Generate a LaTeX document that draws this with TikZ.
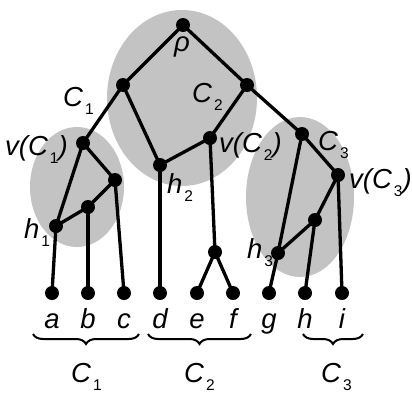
\documentclass[tikz,border=0pt]{standalone}
\usepackage{fontspec}
\setmainfont{Liberation Sans}
\usetikzlibrary{decorations.pathreplacing}
\definecolor{blobgray}{RGB}{195,195,195}
\newcommand\subnum[1]{\kern2pt\raisebox{-8pt}{\fontsize{15.5}{15.5}\selectfont\upshape #1}}
\tikzset{
  dot/.style={circle,fill=black,inner sep=0pt,minimum size=14pt},
  edge/.style={line width=3.3pt},
  blob/.style={fill=blobgray},
  lbl/.style={inner sep=0pt,anchor=base west,font=\fontsize{27.5}{27.5}\selectfont\itshape},
  leaflbl/.style={inner sep=0pt,anchor=base,font=\fontsize{27.5}{27.5}\selectfont\itshape},
  brc/.style={decorate,decoration={brace,mirror,amplitude=10pt},line width=2pt}
}
\begin{document}
\begin{tikzpicture}[x=1pt,y=-1pt]
\useasboundingbox (0,0) rectangle (412,392);
% blobs
\fill[blob] (182,98) ellipse [x radius=75, y radius=88];
\fill[blob] (77,187) ellipse [x radius=47, y radius=60];
\fill[blob] (300,197) ellipse [x radius=54, y radius=80];
% nodes
\node[dot] (rho) at (183,25) {};
\node[dot] (c1) at (123,85) {};
\node[dot] (c2) at (247,85) {};
\node[dot] (vc1) at (83,143) {};
\node[dot] (n1) at (115,180) {};
\node[dot] (n2) at (88,207) {};
\node[dot] (h1) at (56,226) {};
\node[dot] (h2) at (160,165) {};
\node[dot] (vc2) at (210,138) {};
\node[dot] (ef) at (215,252) {};
\node[dot] (c3) at (302,134) {};
\node[dot] (vc3) at (338,175) {};
\node[dot] (n3) at (315,220) {};
\node[dot] (h3) at (278,253) {};
\node[dot] (la) at (52,293) {};
\node[dot] (lb) at (88,293) {};
\node[dot] (lc) at (124,293) {};
\node[dot] (ld) at (160,293) {};
\node[dot] (le) at (197,293) {};
\node[dot] (lf) at (233,293) {};
\node[dot] (lg) at (269,293) {};
\node[dot] (lh) at (305,293) {};
\node[dot] (li) at (342,293) {};
% edges
\draw[edge] (rho.center) -- (c1.center);
\draw[edge] (rho.center) -- (c2.center);
\draw[edge] (c1.center) -- (vc1.center);
\draw[edge] (c1.center) -- (h2.center);
\draw[edge] (vc1.center) -- (n1.center);
\draw[edge] (vc1.center) -- (h1.center);
\draw[edge] (n1.center) -- (n2.center);
\draw[edge] (n1.center) -- (lc.center);
\draw[edge] (n2.center) -- (h1.center);
\draw[edge] (n2.center) -- (lb.center);
\draw[edge] (h1.center) -- (la.center);
\draw[edge] (h2.center) -- (ld.center);
\draw[edge] (c2.center) -- (vc2.center);
\draw[edge] (c2.center) -- (c3.center);
\draw[edge] (vc2.center) -- (h2.center);
\draw[edge] (vc2.center) -- (ef.center);
\draw[edge] (ef.center) -- (le.center);
\draw[edge] (ef.center) -- (lf.center);
\draw[edge] (c3.center) -- (vc3.center);
\draw[edge] (c3.center) -- (h3.center);
\draw[edge] (vc3.center) -- (n3.center);
\draw[edge] (vc3.center) -- (li.center);
\draw[edge] (n3.center) -- (h3.center);
\draw[edge] (n3.center) -- (lh.center);
\draw[edge] (h3.center) -- (lg.center);
% labels
\node[lbl,anchor=base] (trho) at (182,51) {ρ};
\node[lbl] (tc1) at (63,106) {C\subnum{1}};
\node[lbl] (tvc1) at (5,155) {v(C\subnum{1})};
\node[lbl] (tc2) at (192,102) {C\subnum{2}};
\node[lbl] (tvc2) at (219,152) {v(C\subnum{2})};
\node[lbl] (tc3) at (318,150) {C\subnum{3}};
\node[lbl] (tvc3) at (349,188) {v(C\subnum{3})};
\node[lbl] (th1) at (24,238) {h\subnum{1}};
\node[lbl] (th2) at (167,193) {h\subnum{2}};
\node[lbl] (th3) at (247,258) {h\subnum{3}};
\node[leaflbl] (ta) at (52,328) {a};
\node[leaflbl] (tb) at (88,328) {b};
\node[leaflbl] (tc) at (124,328) {c};
\node[leaflbl] (td) at (160,328) {d};
\node[leaflbl] (te) at (197,328) {e};
\node[leaflbl] (tf) at (233,328) {f};
\node[leaflbl] (tg) at (269,328) {g};
\node[leaflbl] (th) at (305,328) {h};
\node[leaflbl] (ti) at (342,328) {i};
% braces
\coordinate (b1l) at (33,334); \coordinate (b1r) at (139,334);
\coordinate (b2l) at (148,334); \coordinate (b2r) at (251,334);
\coordinate (b3l) at (303,334); \coordinate (b3r) at (363,334);
\draw[brc] (b1l) -- (b1r);
\draw[brc] (b2l) -- (b2r);
\draw[brc] (b3l) -- (b3r);
\node[lbl] (tC1) at (71,382) {C\subnum{1}};
\node[lbl] (tC2) at (184,382) {C\subnum{2}};
\node[lbl] (tC3) at (321,382) {C\subnum{3}};
\end{tikzpicture}
\end{document}
